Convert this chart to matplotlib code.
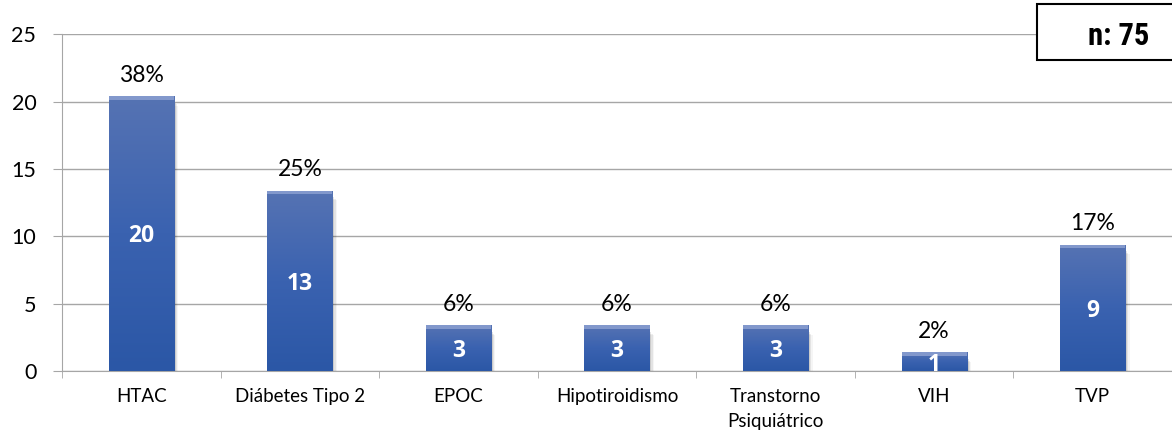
import matplotlib
matplotlib.use("Agg")
import matplotlib.pyplot as plt
import numpy as np
from matplotlib.colors import LinearSegmentedColormap
from matplotlib.patches import Rectangle

categories = ["HTAC", "Diábetes Tipo 2", "EPOC", "Hipotiroidismo",
              "Transtorno\nPsiquiátrico", "VIH", "TVP"]
counts = [20, 13, 3, 3, 3, 1, 9]
percents = ["38%", "25%", "6%", "6%", "6%", "2%", "17%"]
total_label = "n: 75"

plt.rcParams["font.family"] = ["Lato", "DejaVu Sans"]
BOLD = ["Open Sans", "DejaVu Sans"]

BAR_W = 0.41
grad = LinearSegmentedColormap.from_list("bar", ["#2b57a6", "#3a62b0", "#5673b3"])

fig = plt.figure(figsize=(11.72, 4.36), dpi=100)
ax = fig.add_axes([0.0529, 0.1484, 0.9471, 0.7730])

x = np.arange(len(categories))
ax.set_xlim(-0.5, len(categories) - 0.5)
ax.set_ylim(0, 25)
ax.set_yticks(range(0, 26, 5))
ax.yaxis.grid(True, color="#a6a6a6", lw=1.0)
ax.set_axisbelow(True)

for s in ("top", "right"):
    ax.spines[s].set_visible(False)
ax.spines["left"].set_color("#a6a6a6")
ax.spines["bottom"].set_color("#a6a6a6")

ax.tick_params(axis="y", length=6.5, color="#a6a6a6", pad=12, labelsize=15.5)
ax.set_xticks(x)
ax.set_xticklabels(categories, fontsize=13.5, linespacing=1.55)
ax.tick_params(axis="x", length=0, pad=12)
ax.set_xticks(np.arange(-0.5, len(categories), 1.0), minor=True)
ax.tick_params(axis="x", which="minor", length=5, color="#a6a6a6")

bars = ax.bar(x, counts, width=BAR_W, color="none", zorder=3)
for xi, b, v, pct in zip(x, bars, counts, percents):
    x0 = b.get_x()
    # soft drop shadow
    for k, a in enumerate([0.10, 0.07, 0.04]):
        d = 0.012 + 0.008 * k
        ax.add_patch(Rectangle((x0 + d, -0.05), BAR_W, v - 0.05 - 0.1 * k,
                               facecolor="black", alpha=a, lw=0, zorder=2.5))
    im = ax.imshow(np.linspace(0, 1, 256).reshape(-1, 1), cmap=grad, aspect="auto",
                   extent=(x0, x0 + BAR_W, 0, v + 0.4), origin="lower", zorder=3)
    clip = Rectangle((x0, 0), BAR_W, v + 0.4, transform=ax.transData)
    im.set_clip_path(clip)
    ax.add_patch(Rectangle((x0, v + 0.12), BAR_W, 0.28, facecolor="#8298cc",
                           lw=0, zorder=3.2))
    ax.text(xi, v / 2, str(v), ha="center", va="center", color="white",
            fontsize=16.5, fontweight="bold", family=BOLD, zorder=4)
    ax.annotate(pct, (xi, v), xytext=(0, 19), textcoords="offset points",
                ha="center", va="center", fontsize=16.5, zorder=4)

# sample size box in the top-right corner
fig.patches.append(Rectangle((1037 / 1172, (436 - 60) / 436), 0.2, 56 / 436,
                             transform=fig.transFigure, facecolor="white",
                             edgecolor="black", lw=1.5, clip_on=False))
fig.text(1119 / 1172, (436 - 36) / 436, total_label, ha="center", va="center",
         fontsize=22, fontweight="bold", family=["Roboto Condensed", "Roboto", "DejaVu Sans"])

fig.savefig("out.png", dpi=100)
